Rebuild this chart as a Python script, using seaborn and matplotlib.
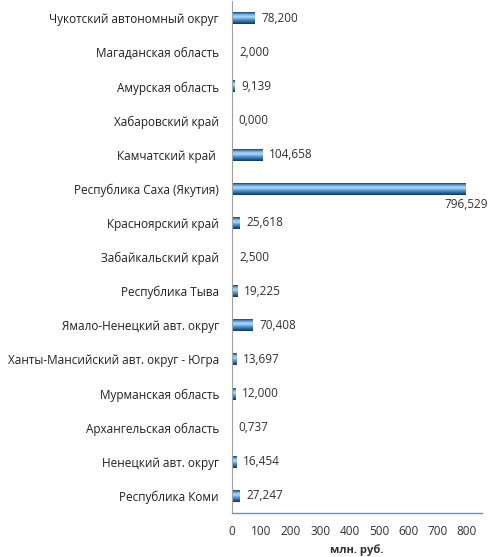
import numpy as np
import pandas as pd
import seaborn as sns
import matplotlib.pyplot as plt
from matplotlib.colors import LinearSegmentedColormap

regions = [
    'Чукотский автономный округ', 'Магаданская область', 'Амурская область',
    'Хабаровский край', 'Камчатский край ', 'Республика Саха (Якутия)',
    'Красноярский край', 'Забайкальский край', 'Республика Тыва',
    'Ямало-Ненецкий авт. округ', 'Ханты-Мансийский авт. округ - Югра',
    'Мурманская область', 'Архангельская область', 'Ненецкий авт. округ',
    'Республика Коми',
]
values = [78.200, 2.000, 9.139, 0.000, 104.658, 796.529, 25.618, 2.500,
          19.225, 70.408, 13.697, 12.000, 0.737, 16.454, 27.247]
xticks = [0, 100, 200, 300, 400, 500, 600, 700, 800]

df = pd.DataFrame({'region': regions, 'value': values})

sns.set_style('white')
plt.rcParams['font.family'] = ['Open Sans', 'DejaVu Sans']
fs = 8.5

fig = plt.figure(figsize=(4.94, 5.57), dpi=100)
ax = fig.add_axes([0.47, 0.079, 0.505, 0.919])

sns.barplot(data=df, y='region', x='value', orient='h', color='#3d85c6',
            width=0.35, ax=ax, saturation=1)

# gradient fill on each bar (Excel-like glossy look)
grad = LinearSegmentedColormap.from_list(
    'bar', ['#1c3f66', '#6fb0e6', '#b3daf7', '#5a9fd8', '#2a6aa8', '#163558'])
g = np.linspace(0, 1, 64).reshape(-1, 1)
for p in ax.patches:
    x0, y0 = p.get_x(), p.get_y()
    w, h = p.get_width(), p.get_height()
    if w <= 0:
        continue
    p.set_facecolor('none')
    p.set_edgecolor('none')
    im = ax.imshow(g, cmap=grad, aspect='auto', extent=(x0, x0 + w, y0 + h, y0),
                   zorder=2, interpolation='bilinear')
    im.set_clip_path(p)

for i, v in enumerate(values):
    txt = f'{v:.3f}'.replace('.', ',')
    if v > 700:
        ax.annotate(txt, (v, i), xytext=(0, -11.5), textcoords='offset points',
                    ha='center', va='center', fontsize=fs, color='#303030')
    else:
        ax.annotate(txt, (v, i), xytext=(4.5, 0), textcoords='offset points',
                    ha='left', va='center', fontsize=fs, color='#303030')

ax.set_xlim(0, 850)
ax.set_ylim(len(regions) - 0.5, -0.5)
ax.set_xticks(xticks)
ax.set_xticklabels([str(t) for t in xticks], fontsize=fs, color='#303030')
ax.tick_params(axis='y', labelsize=fs, labelcolor='#202020', length=0, pad=9.5)
ax.tick_params(axis='x', length=0, pad=9)
ax.set_yticks(np.arange(-0.5, len(regions), 1), minor=True)
ax.tick_params(axis='y', which='minor', length=4, color='#a0a0a0', direction='out')

ax.set_xlabel('млн. руб.', fontsize=fs - 0.5, fontweight='bold', color='#303030', labelpad=4)
ax.set_ylabel('')

for s in ['top', 'right']:
    ax.spines[s].set_visible(False)
ax.spines['left'].set_color('#a0a0a0')
ax.spines['left'].set_linewidth(0.8)
ax.spines['bottom'].set_color('#5b9bd5')
ax.spines['bottom'].set_linewidth(1.0)

fig.savefig('out.png', dpi=100)
